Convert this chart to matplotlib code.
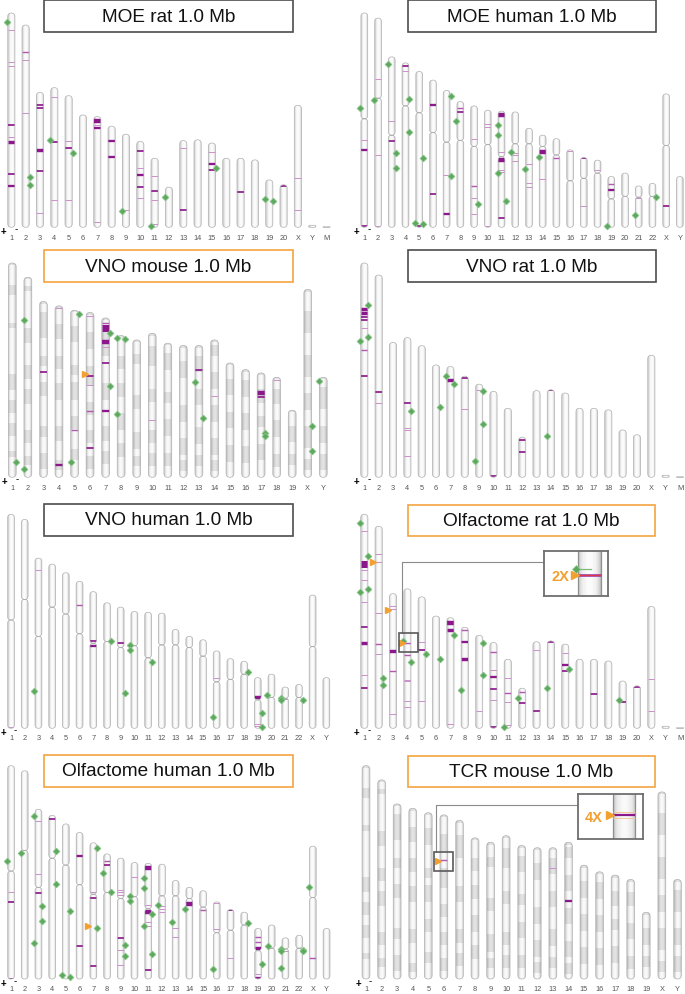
import numpy as np
import matplotlib
matplotlib.use("Agg")
import matplotlib.pyplot as plt
from matplotlib.patches import FancyBboxPatch, PathPatch, Rectangle, BoxStyle
from matplotlib.path import Path

plt.rcParams['font.family'] = ['Liberation Sans', 'DejaVu Sans']

FW, FH = 685, 995

# ---------------- genomes (lengths in Mb) ----------------
rat_names = [str(i) for i in range(1, 21)] + ['X', 'Y', 'M']
rat_len = [267, 252, 168, 174, 164, 140, 138, 126, 116, 107, 86, 50, 108, 109,
           105, 86, 86, 84, 59, 53, 152, 2.5, 0.6]

human_names = [str(i) for i in range(1, 23)] + ['X', 'Y']
human_len = [249, 243, 198, 191, 181, 171, 159, 146, 141, 136, 135, 134, 115,
             107, 103, 90, 81, 78, 59, 63, 48, 51, 155, 59]
human_cen = [123, 93, 91, 50, 48, 61, 60, 45, 47, 40, 53, 37, 18, 13, 19, 36,
             24, 15, 26, 27, 13, 15, 60, None]

mouse_names = [str(i) for i in range(1, 20)] + ['X', 'Y']
mouse_len = [195, 182, 160, 156, 152, 150, 145, 129, 125, 131, 122, 120, 120,
             125, 104, 98, 95, 91, 61, 171, 91]
# darker G-bands of the mouse ideograms (start, end) in Mb
mouse_gbands = [
    [(0, 3), (21, 30), (55, 60), (102, 116), (125, 137), (146, 158), (171, 177)],
    [(0, 3), (9, 14), (47, 61), (81, 93), (102, 116), (139, 151), (163, 171)],
    [(0, 3), (10, 34), (50, 59), (74, 86), (114, 124), (138, 153)],
    [(0, 3), (17, 31), (46, 58), (71, 86), (110, 123), (141, 150)],
    [(0, 3), (15, 30), (51, 60), (66, 82), (97, 109), (127, 137)],
    [(0, 3), (18, 34), (49, 67), (82, 94), (107, 119), (131, 143)],
    [(0, 3), (14, 35), (60, 75), (99, 112), (121, 133)],
    [(0, 3), (19, 31), (44, 56), (71, 86), (98, 111)],
    [(0, 3), (14, 23), (51, 63), (84, 100), (106, 115)],
    [(0, 3), (12, 30), (51, 63), (88, 100), (109, 121)],
    [(0, 3), (10, 25), (45, 55), (70, 85), (100, 112)],
    [(0, 3), (15, 30), (55, 70), (85, 100), (105, 115)],
    [(0, 3), (10, 25), (40, 55), (75, 90), (100, 110)],
    [(0, 3), (5, 15), (30, 45), (60, 75), (90, 105), (110, 120)],
    [(0, 3), (15, 30), (45, 60), (75, 90)],
    [(0, 3), (10, 25), (40, 55), (70, 85)],
    [(0, 3), (15, 28), (40, 50), (65, 80)],
    [(0, 3), (12, 25), (40, 55), (70, 82)],
    [(0, 3), (15, 30), (40, 50)],
    [(0, 3), (20, 40), (60, 80), (95, 110), (125, 145), (155, 165)],
    [(0, 3), (10, 30), (45, 60), (70, 85)],
]

# ---------------- hits: bands (chrom, Mb, level), genes (chrom, Mb, strand), arrows (chrom, Mb) ----------------
moe_rat_bands = [
    ("1", 21, 1), ("1", 61, 1), ("1", 66, 1), ("1", 140, 2), ("1", 155, 1), ("1", 161, 3),
    ("1", 201, 2), ("1", 216, 2.5), ("2", 33, 1.5), ("2", 44, 1), ("2", 109, 1),
    ("3", 15, 2), ("3", 19.5, 2), ("3", 72, 3), ("3", 97.6, 2), ("3", 150, 1),
    ("4", 12, 1), ("4", 68, 2), ("4", 140, 1), ("5", 56, 1), ("5", 65, 2), ("5", 130, 1),
    ("7", 6, 3.5), ("7", 10, 1), ("7", 14.5, 2.5), ("7", 132, 1), ("8", 18, 2.5), ("8", 39, 2.5),
    ("9", 94, 1), ("10", 11.6, 2), ("10", 33, 1), ("10", 42, 2.5), ("10", 57, 2), ("10", 71, 1),
    ("11", 22, 1), ("11", 41, 2), ("11", 52, 1), ("11", 82, 1), ("13", 9, 1), ("13", 86, 2),
    ("15", 11.6, 1), ("15", 26, 2.5), ("15", 34, 2), ("17", 42, 2), ("20", 1, 2),
    ("X", 91, 1), ("X", 130, 1)]
moe_rat_genes = [
    ("1", 11, "+"), ("2", 189, "-"), ("2", 199, "-"), ("4", 65, "+"), ("5", 71, "-"),
    ("9", 96, "+"), ("11", 84, "+"), ("12", 12.5, "+"), ("15", 31, "-"), ("19", 24, "+"),
    ("19", 26, "-")]

moe_human_bands = [
    ("1", 147.5, 1), ("1", 159, 2.5), ("1", 248, 2), ("2", 70.5, 1), ("2", 159, 1), ("2", 241, 1),
    ("3", 75, 1), ("3", 98, 2), ("4", 4, 2), ("4", 9, 1), ("5", 180, 2), ("6", 29, 2.5),
    ("6", 132, 2), ("7", 98, 1), ("7", 143, 2.5), ("8", 7.7, 1.5), ("8", 12.4, 2),
    ("9", 38, 1), ("9", 93, 1.5), ("9", 107, 1), ("9", 125, 1), ("10", 16, 1), ("10", 19, 1),
    ("10", 135, 1), ("11", 5, 3.5), ("11", 48, 1), ("11", 56.5, 3.5), ("11", 68, 1),
    ("11", 71, 1), ("11", 124, 2), ("12", 47.6, 1), ("12", 50, 1), ("12", 56.6, 1),
    ("13", 42, 1), ("13", 64, 1), ("13", 68, 1), ("14", 20, 3.5), ("14", 51, 1),
    ("15", 22, 1.5), ("16", 1.5, 1), ("17", 1, 2), ("17", 56, 1), ("18", 12, 1),
    ("19", 9, 1.5), ("19", 15.5, 2.5), ("21", 14, 1), ("X", 130, 2)]
moe_human_genes = [
    ("1", 110, "+"), ("2", 95.6, "+"), ("3", 8, "+"), ("3", 112, "-"), ("3", 129, "-"),
    ("4", 42, "-"), ("4", 80, "-"), ("5", 101, "-"), ("5", 175.5, "+"), ("5", 177.5, "-"),
    ("7", 6.6, "-"), ("7", 99.5, "-"), ("8", 22.5, "+"), ("9", 114, "-"), ("11", 16.6, "+"),
    ("11", 28, "+"), ("11", 72, "+"), ("11", 104, "-"), ("12", 47, "+"), ("13", 47, "+"),
    ("14", 25, "+"), ("19", 58, "+"), ("21", 34, "+"), ("22", 15.5, "-")]

vno_mouse_bands = [
    ("3", 64, 2), ("4", 2, 1), ("4", 145, 2.5), ("5", 109, 1.5), ("6", 3, 1), ("6", 58, 2),
    ("6", 66, 1), ("6", 90, 1.5), ("6", 123, 2), ("7", 4.5, 1.5), ("7", 9.4, 4),
    ("7", 21.5, 3.5), ("7", 26, 1), ("7", 41, 2), ("7", 85, 2.5), ("10", 79, 1),
    ("13", 22, 2), ("14", 50.6, 1), ("17", 18, 3.5), ("17", 22, 2), ("18", 2.4, 1)]
vno_mouse_genes = [
    ("1", 181, "-"), ("2", 39, "+"), ("2", 174, "+"), ("5", 3, "-"), ("5", 138, "+"),
    ("7", 13.6, "-"), ("7", 61.6, "-"), ("8", 2.4, "+"), ("8", 3.6, "-"), ("8", 71, "+"),
    ("13", 33, "+"), ("13", 66, "-"), ("17", 54.6, "-"), ("17", 57, "-"), ("X", 124, "-"),
    ("X", 147, "-"), ("Y", 3, "+")]
vno_mouse_arrows = [("6", 56)]

vno_rat_bands = [
    ("1", 57, 3), ("1", 62.6, 3), ("1", 67.6, 2), ("1", 70.5, 2), ("1", 81, 1), ("1", 109, 1.5),
    ("1", 141, 2), ("2", 146, 2), ("2", 159, 1), ("4", 82, 2), ("4", 112, 1), ("4", 115, 1),
    ("4", 147, 1), ("7", 16.6, 3), ("8", 2.5, 2), ("8", 41, 1), ("9", 7.5, 1),
    ("10", 105.5, 2), ("12", 4, 2), ("12", 18.7, 2), ("14", 0.5, 2)]
vno_rat_genes = [
    ("1", 52, "-"), ("1", 97, "+"), ("1", 92.6, "-"), ("4", 92, "-"), ("6", 53, "-"),
    ("7", 12, "+"), ("7", 21.6, "-"), ("9", 8.7, "-"), ("9", 49, "-"), ("9", 96, "+"),
    ("14", 58, "+")]

vno_human_bands = [
    ("1", 247, 1), ("3", 13.5, 1), ("6", 27.5, 1.5), ("7", 57, 2), ("7", 63.6, 2.5),
    ("9", 42, 2), ("16", 31.4, 1), ("19", 22.5, 3), ("19", 53.5, 1), ("19", 56, 1),
    ("21", 14, 1)]
vno_human_genes = [
    ("3", 155, "+"), ("8", 44, "-"), ("9", 100, "-"), ("10", 39, "+"), ("10", 44.6, "+"),
    ("11", 58, "-"), ("16", 77, "+"), ("18", 12.4, "-"), ("19", 40.7, "-"), ("19", 57.4, "-"),
    ("20", 24.4, "+"), ("21", 12.8, "+"), ("21", 15, "+"), ("22", 17.5, "-")]

olf_rat_bands = [
    ("1", 21, 1), ("1", 61.5, 4), ("1", 69.5, 1), ("1", 81.5, 1), ("1", 110, 1), ("1", 141, 2),
    ("1", 161, 3), ("1", 201, 1), ("1", 217, 2), ("2", 34, 1), ("2", 44, 1), ("2", 108.6, 1),
    ("2", 147, 1.5), ("2", 159, 1), ("3", 15, 1), ("3", 19, 1), ("3", 72, 3), ("3", 97, 1.5),
    ("3", 150, 1), ("4", 68, 1.5), ("4", 82, 1.5), ("4", 113.5, 1), ("4", 115.5, 1),
    ("4", 140, 1), ("4", 148, 1), ("5", 56, 1), ("5", 66, 2), ("5", 130, 1), ("7", 6, 3.5),
    ("7", 15.4, 3), ("7", 133, 1), ("8", 3.3, 1.5), ("8", 18.7, 2.5), ("8", 40, 3),
    ("9", 95, 1), ("10", 12, 1.5), ("10", 34, 1), ("10", 43, 2.5), ("10", 58, 2),
    ("10", 72, 1), ("10", 106, 2), ("11", 23, 1), ("11", 41.6, 1.5), ("11", 53, 1),
    ("11", 81.5, 1), ("12", 5, 1.5), ("12", 19, 2), ("13", 10, 1), ("13", 87, 2),
    ("14", 1, 2), ("15", 11, 1), ("15", 26, 2.5), ("15", 33, 2), ("17", 43, 2),
    ("19", 26.6, 2), ("20", 1, 2), ("X", 91, 1), ("X", 130, 1)]
olf_rat_genes = [
    ("1", 11, "+"), ("1", 52, "-"), ("1", 97, "+"), ("1", 93, "-"), ("2", 189, "-"),
    ("2", 198, "-"), ("4", 64.5, "+"), ("4", 91.5, "-"), ("5", 71, "-"), ("6", 53.6, "-"),
    ("7", 22, "-"), ("8", 78, "+"), ("9", 9.6, "-"), ("9", 50, "-"), ("11", 84.4, "+"),
    ("12", 12.5, "+"), ("14", 58.6, "+"), ("15", 31, "-"), ("19", 24, "+")]
olf_rat_arrows = [("2", 44), ("3", 20), ("4", 68)]

olf_human_bands = [
    ("1", 148, 1), ("1", 159.5, 2), ("1", 249, 2), ("2", 243, 1), ("3", 13, 1), ("3", 75.5, 1),
    ("3", 97.7, 2), ("4", 4.7, 2), ("6", 28, 2.5), ("6", 132.7, 2), ("7", 57, 1), ("7", 64, 2),
    ("7", 144, 2), ("8", 8.6, 1.5), ("8", 12.8, 2), ("9", 37, 1), ("9", 39.7, 1),
    ("9", 42.4, 1), ("9", 93, 2), ("9", 107, 1), ("9", 125, 1), ("10", 17, 1),
    ("11", 5.4, 3.5), ("11", 48.6, 1), ("11", 57, 3.5), ("11", 69, 1), ("11", 72.8, 1),
    ("11", 124.5, 2), ("12", 49, 1), ("12", 52, 1), ("12", 56, 1), ("13", 55, 1),
    ("13", 66, 1), ("14", 20, 3.5), ("15", 22, 1.5), ("16", 1.5, 1), ("16", 31.5, 1),
    ("17", 1, 2), ("17", 56, 1), ("19", 10.5, 1.5), ("19", 16, 1.5), ("19", 23, 3),
    ("19", 53.7, 1), ("19", 56.4, 1.5), ("19", 58.4, 2), ("21", 14.8, 1), ("X", 130, 1.5)]
olf_human_genes = [
    ("1", 111, "+"), ("2", 96.5, "+"), ("3", 8, "+"), ("3", 112.5, "-"), ("3", 130, "-"),
    ("3", 156, "+"), ("4", 42, "-"), ("4", 80.5, "-"), ("5", 102, "-"), ("5", 176, "+"),
    ("5", 178.6, "-"), ("7", 6.6, "-"), ("7", 100, "-"), ("8", 22.6, "+"), ("8", 44.7, "-"),
    ("9", 101, "-"), ("9", 114, "-"), ("10", 39.7, "+"), ("10", 45.5, "+"), ("11", 17, "+"),
    ("11", 29, "+"), ("11", 73, "+"), ("11", 58.8, "-"), ("11", 106, "-"), ("12", 47.5, "+"),
    ("13", 48, "+"), ("14", 25.7, "+"), ("16", 78, "+"), ("18", 12.8, "-"), ("19", 41.6, "-"),
    ("20", 25, "+"), ("21", 12.8, "+"), ("21", 15.6, "+"), ("21", 34.6, "+"), ("22", 17, "-"),
    ("22", 18, "-"), ("X", 47.5, "+")]
olf_human_arrows = [("7", 97)]

tcr_mouse_bands = [("6", 41, 1.5), ("13", 18.6, 1), ("14", 53.6, 2.5)]
tcr_mouse_arrows = [("6", 42)]

# zoomed details (Mb): gene/arrow/band shown in the magnified boxes
olf_zoom_gene = 64.5
olf_zoom_arrow = 68
olf_zoom_lines = [(68, '#9a3a9a', 2.6), (68, '#e0354d', 1.0)]
tcr_zoom_arrow = 41
tcr_zoom_lines = [(40.3, '#f2c49a', 0.9), (41.7, '#f2c49a', 0.9), (41, '#8c168c', 2.2)]

# ---------------- drawing ----------------
LEVEL_PX = {1: 1.0, 1.5: 1.4, 2: 1.7, 2.5: 2.3, 3: 3.4, 3.5: 4.4, 4: 7.0}
GREEN, GREEN_EDGE, ORANGE = '#5fa85f', '#8dc98d', '#f2a031'
SHADE = 1 - 0.22 * np.abs(np.linspace(-1, 1, 21)) ** 2.5


def band_color(level):
    if level <= 1:
        return '#cd92cd'
    if level <= 1.5:
        return '#b257b2'
    return '#8c168c'


def chrom_path(xc, top, bottom, w, aspect):
    h = top - bottom
    r = min(w / 2, h / aspect / 2)
    box = FancyBboxPatch((xc - w / 2, bottom), w, h,
                         boxstyle=BoxStyle.Round(pad=0, rounding_size=r),
                         mutation_aspect=aspect)
    return box.get_path()


def tube_image(bottom, gray, top=0.0, base=0.985):
    if not gray:
        return base * SHADE[None, :]
    pos = np.arange(top, bottom, 0.5) + 0.25
    col = np.full(pos.shape, 0.975)
    for a, b in gray:
        col[(pos >= a) & (pos < b)] = 0.885
    return col[:, None] * SHADE[None, :]


def draw_panel(fig, spec, names, lengths, cens, bands, genes, arrows=(), gbands=None):
    X0, Y0, W, H = spec['region']
    x0, dx, yb, s = spec['x0'], spec['dx'], spec['yb'], spec['s']
    ax = fig.add_axes([X0 / FW, 1 - (Y0 + H) / FH, W / FW, H / FH])
    ax.set_axis_off()
    aspect = dx / s
    w = spec['cw'] / dx
    idx = {n: i for i, n in enumerate(names)}
    outlines = []
    for i, (n, L) in enumerate(zip(names, lengths)):
        c = cens[i] if cens is not None else None
        if c:
            path = Path.make_compound_path(chrom_path(i, L, L - c, w, aspect),
                                           chrom_path(i, L - c, 0, w, aspect))
        else:
            path = chrom_path(i, L, 0, w, aspect)
        outline = PathPatch(path, fc='none', ec='#b0b0b0', lw=0.5, zorder=3)
        ax.add_patch(outline)
        im = ax.imshow(tube_image(L, gbands[i] if gbands else None), cmap='gray',
                       vmin=0, vmax=1, aspect='auto', interpolation='nearest',
                       extent=(i - w / 2, i + w / 2, 0, L), zorder=1)
        im.set_clip_path(outline)
        outlines.append(outline)
        ax.text(i, (yb - spec['label_y']) / s, n, ha='center', va='center',
                fontsize=5.3, color='#555555')

    for n, pos, lev in bands:
        i = idx[n]
        lc = ax.hlines(lengths[i] - pos, i - w / 2, i + w / 2, colors=band_color(lev),
                       linewidth=LEVEL_PX[lev] * 0.72, zorder=2)
        lc.set_clip_path(outlines[i])

    if genes:
        gx = [idx[n] + (-4.0 if st == '+' else 4.0) / dx for n, p, st in genes]
        gy = [lengths[idx[n]] - p for n, p, st in genes]
        ax.plot(gx, gy, ls='none', marker='D', ms=3.5, mfc=GREEN, mec=GREEN_EDGE,
                mew=0.5, zorder=5)
    if arrows:
        tx = [idx[n] - 5.5 / dx for n, p in arrows]
        ty = [lengths[idx[n]] - p for n, p in arrows]
        ax.plot(tx, ty, ls='none', marker='>', ms=4.3, color=ORANGE, zorder=5)

    ax.text(-8 / dx, -4 / s, '+', ha='center', va='center', fontsize=7, fontweight='bold')
    ax.text(4.5 / dx, -1 / s, '-', ha='center', va='center', fontsize=7)

    tx0, ty0, tx1, ty1 = spec['title_box']
    ax.add_patch(Rectangle(((tx0 - X0) / W, 1 - (ty1 - Y0) / H), (tx1 - tx0) / W,
                           (ty1 - ty0) / H, transform=ax.transAxes, fc='white',
                           ec=spec['title_ec'], lw=1.2, zorder=6, clip_on=False))
    ax.text(((tx0 + tx1) / 2 - X0) / W, 1 - ((ty0 + ty1) / 2 - Y0) / H, spec['title'],
            transform=ax.transAxes, ha='center', va='center', fontsize=13.7,
            color='#111111', zorder=7)

    ax.set_xlim((X0 - x0) / dx, (X0 + W - x0) / dx)
    ax.set_ylim((yb - (Y0 + H)) / s, (yb - Y0) / s)
    return ax


def px2data(spec, x, y):
    return (x - spec['x0']) / spec['dx'], (spec['yb'] - y) / spec['s']


def zoom_marker(ax, spec, names, lengths, chrom, p0, p1, left_px, right_px, inset_box):
    i = names.index(chrom)
    L = lengths[i]
    dx = spec['dx']
    ax.add_patch(Rectangle((i - left_px / dx, L - p1), (left_px + right_px) / dx, p1 - p0,
                           fc='none', ec='#5a5a5a', lw=1.2, zorder=6))
    # connector from the box to the magnified view
    xs = spec['x0'] + (i - left_px / dx) * dx + 2.5
    ys = spec['yb'] - (L - p0) * spec['s']
    yc = inset_box[1] + 11
    pts = [px2data(spec, xs, ys), px2data(spec, xs, yc), px2data(spec, inset_box[0], yc)]
    ax.plot([p[0] for p in pts], [p[1] for p in pts], color='#8a8a8a', lw=0.8,
            zorder=4, clip_on=False)


def draw_inset(fig, box, strip, pos_top, scale, gray, lines, arrow, gene, label, label_xy):
    bx0, by0, bx1, by1 = box
    ax = fig.add_axes([bx0 / FW, 1 - by1 / FH, (bx1 - bx0) / FW, (by1 - by0) / FH])
    unit = strip[1] - strip[0]
    xc = (strip[0] + strip[1]) / 2
    pos_bot = pos_top + (by1 - by0) / scale
    ax.imshow(tube_image(pos_bot, gray, top=pos_top), cmap='gray', vmin=0, vmax=1,
              aspect='auto', interpolation='nearest',
              extent=(-0.5, 0.5, pos_bot, pos_top))
    ax.vlines([-0.5, 0.5], pos_top, pos_bot, color='#8f8f8f', lw=0.9)
    for p, c, lw_px in lines:
        ax.hlines(p, -0.5, 0.5, colors=c, linewidth=lw_px * 0.72)
    if gene is not None:
        gx = -0.5 - 2.3 / unit
        ax.plot([gx, 0.05], [gene, gene], color='#7dbb7d', lw=0.9)
        ax.plot([gx], [gene], ls='none', marker='D', ms=3.8, mfc=GREEN, mec=GREEN_EDGE, mew=0.5)
    ax.plot([-0.5 - 3.0 / unit], [arrow], ls='none', marker='>', ms=5.5, color=ORANGE)
    ax.text((label_xy[0] - xc) / unit, pos_top + (label_xy[1] - by0) / scale, label,
            ha='center', va='center', fontsize=10.5, fontweight='bold', color=ORANGE)
    ax.set_xlim((bx0 - xc) / unit, (bx1 - xc) / unit)
    ax.set_ylim(pos_bot, pos_top)
    ax.set_xticks([])
    ax.set_yticks([])
    for sp in ax.spines.values():
        sp.set_color('#6e6e6e')
        sp.set_linewidth(1.3)


# ---------------- layout (pixels) ----------------
DARK, ORANGE_BOX = '#4d4d4d', '#f4a340'
specs = {
    'moe_rat': dict(region=(0, 0, 342, 250), x0=11.3, dx=14.33, yb=228.3, s=0.8026, cw=7.2,
                    label_y=238, title_box=(44, 1, 293, 33), title_ec=DARK, title='MOE rat 1.0 Mb'),
    'moe_human': dict(region=(342, 0, 343, 250), x0=364.3, dx=13.72, yb=228.3, s=0.8608, cw=6.8,
                      label_y=238, title_box=(407.7, 1, 656, 33), title_ec=DARK,
                      title='MOE human 1.0 Mb'),
    'vno_mouse': dict(region=(0, 250, 342, 250), x0=12.3, dx=15.55, yb=478.3, s=1.099, cw=7.8,
                      label_y=489, title_box=(44.3, 251, 292.7, 283.3), title_ec=ORANGE_BOX,
                      title='VNO mouse 1.0 Mb'),
    'vno_rat': dict(region=(342, 250, 343, 250), x0=364.3, dx=14.35, yb=478.3, s=0.8026, cw=7.2,
                    label_y=489, title_box=(407.7, 251, 656, 283), title_ec=DARK,
                    title='VNO rat 1.0 Mb'),
    'vno_human': dict(region=(0, 500, 342, 250), x0=11, dx=13.71, yb=729.3, s=0.8594, cw=6.8,
                      label_y=739, title_box=(44.3, 505, 292.7, 536.7), title_ec=DARK,
                      title='VNO human 1.0 Mb'),
    'olf_rat': dict(region=(342, 500, 343, 250), x0=364.3, dx=14.35, yb=729.3, s=0.8015, cw=7.2,
                    label_y=739, title_box=(407.7, 505.7, 655, 536.7), title_ec=ORANGE_BOX,
                    title='Olfactome rat 1.0 Mb'),
    'olf_human': dict(region=(0, 750, 342, 245), x0=11, dx=13.72, yb=980, s=0.8567, cw=6.8,
                      label_y=990, title_box=(44.3, 756, 292.7, 787.7), title_ec=ORANGE_BOX,
                      title='Olfactome human 1.0 Mb'),
    'tcr_mouse': dict(region=(342, 750, 343, 245), x0=366, dx=15.57, yb=980, s=1.094, cw=7.8,
                      label_y=990, title_box=(407.7, 756.7, 655, 787.7), title_ec=ORANGE_BOX,
                      title='TCR mouse 1.0 Mb'),
}

fig = plt.figure(figsize=(FW / 100, FH / 100), dpi=100)
fig.patch.set_facecolor('white')

draw_panel(fig, specs['moe_rat'], rat_names, rat_len, None, moe_rat_bands, moe_rat_genes)
draw_panel(fig, specs['moe_human'], human_names, human_len, human_cen, moe_human_bands,
           moe_human_genes)
draw_panel(fig, specs['vno_mouse'], mouse_names, mouse_len, None, vno_mouse_bands,
           vno_mouse_genes, vno_mouse_arrows, gbands=mouse_gbands)
draw_panel(fig, specs['vno_rat'], rat_names, rat_len, None, vno_rat_bands, vno_rat_genes)
draw_panel(fig, specs['vno_human'], human_names, human_len, human_cen, vno_human_bands,
           vno_human_genes)
ax_or = draw_panel(fig, specs['olf_rat'], rat_names, rat_len, None, olf_rat_bands,
                   olf_rat_genes, olf_rat_arrows)
draw_panel(fig, specs['olf_human'], human_names, human_len, human_cen, olf_human_bands,
           olf_human_genes, olf_human_arrows)
ax_tcr = draw_panel(fig, specs['tcr_mouse'], mouse_names, mouse_len, None, tcr_mouse_bands,
                    [], tcr_mouse_arrows, gbands=mouse_gbands)

olf_inset_box = (544, 552, 608, 597)
zoom_marker(ax_or, specs['olf_rat'], rat_names, rat_len, "4", 55.5, 79, 8.3, 10.3, olf_inset_box)
draw_inset(fig, olf_inset_box, (578, 601), 53.2, 1.603, None, olf_zoom_lines,
           olf_zoom_arrow, olf_zoom_gene, '2X', (560.8, 577))

tcr_inset_box = (578, 795, 643, 840)
zoom_marker(ax_tcr, specs['tcr_mouse'], mouse_names, mouse_len, "6", 33.6, 51.3, 10.1, 9.5,
            tcr_inset_box)
draw_inset(fig, tcr_inset_box, (612.7, 635), 36.3, 4.38, mouse_gbands[5], tcr_zoom_lines,
           tcr_zoom_arrow, None, '4X', (593.3, 818))

fig.savefig('out.png', dpi=100, facecolor='white')
